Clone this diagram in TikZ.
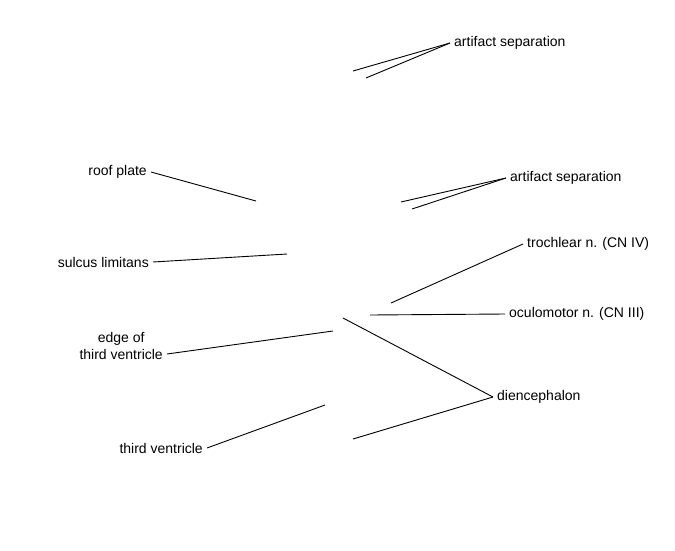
\documentclass[tikz,border=0pt]{standalone}
\usepackage{fontspec}
\setmainfont{Liberation Sans}
\tikzset{
  lbl/.style={inner xsep=4pt, inner ysep=2pt, font=\fontsize{14}{17}\selectfont},
  leader/.style={line width=0.9pt}
}
\begin{document}
\begin{tikzpicture}[x=1pt,y=-1pt]
\useasboundingbox (0,0) rectangle (675,550);

\node[lbl, anchor=west] (artA) at (450,43) {artifact separation};
\node[lbl, anchor=west] (artB) at (506,178) {artifact separation};
\node[lbl, anchor=west] (troch) at (523,244) {trochlear n. (CN IV)};
\node[lbl, anchor=west] (oculo) at (505,314) {oculomotor n. (CN III)};
\node[lbl, anchor=west] (dien) at (493,397) {diencephalon};
\node[lbl, anchor=east] (roof) at (151,172) {roof plate};
\node[lbl, anchor=east] (sulcus) at (153,262) {sulcus limitans};
\node[lbl, anchor=east, align=center] (edge) at (167,346) {edge of\\third ventricle};
\node[lbl, anchor=east] (third) at (207,448) {third ventricle};

\coordinate (artA1) at (353,71);
\coordinate (artA2) at (366,78);
\coordinate (artB1) at (401,202);
\coordinate (artB2) at (412,209);
\coordinate (troch1) at (391,303);
\coordinate (oculo1) at (370,315);
\coordinate (dien1) at (343,318);
\coordinate (dien2) at (353,439);
\coordinate (roof1) at (256,201);
\coordinate (sulcus1) at (287,254);
\coordinate (edge1) at (333,331);
\coordinate (third1) at (325,405);

\draw[leader] (artA.west) -- (artA1);
\draw[leader] (artA.west) -- (artA2);
\draw[leader] (artB.west) -- (artB1);
\draw[leader] (artB.west) -- (artB2);
\draw[leader] (troch.west) -- (troch1);
\draw[leader] (oculo.west) -- (oculo1);
\draw[leader] (dien.west) -- (dien1);
\draw[leader] (dien.west) -- (dien2);
\draw[leader] (roof.east) -- (roof1);
\draw[leader] (sulcus.east) -- (sulcus1);
\draw[leader] ([yshift=-8pt]edge.east) -- (edge1);
\draw[leader] (third.east) -- (third1);
\end{tikzpicture}
\end{document}
